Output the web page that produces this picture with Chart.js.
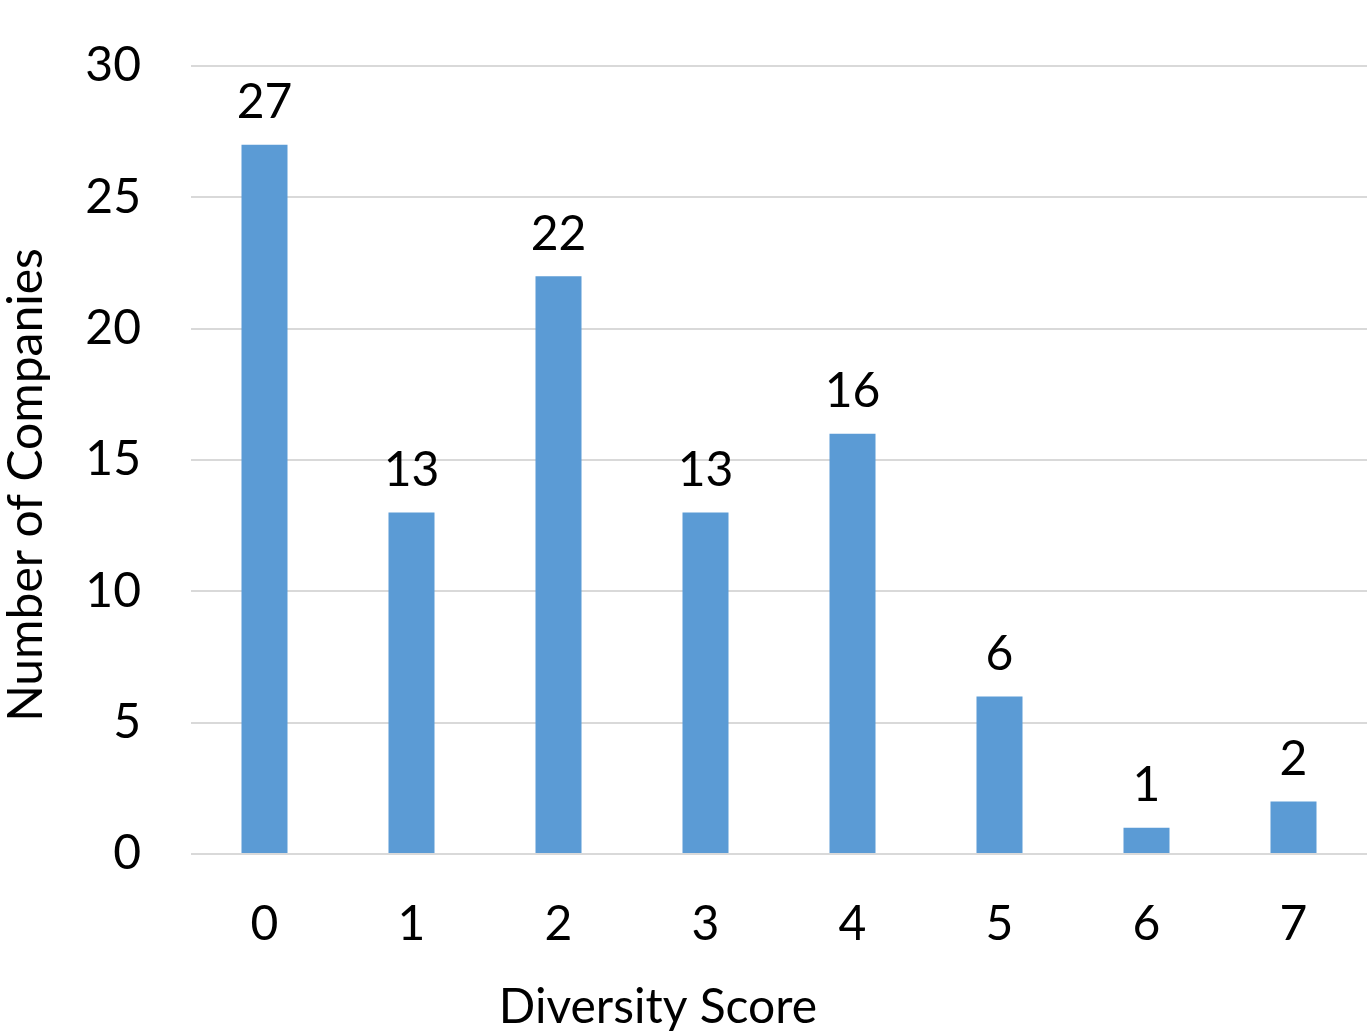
<!DOCTYPE html>
<html>
<head>
<meta charset="utf-8">
<script src="https://cdn.jsdelivr.net/npm/chart.js@4"></script>
<style>
  html, body { margin: 0; padding: 0; background: #fff; }
  #wrap { width: 1367px; height: 1032px; }
</style>
</head>
<body>
<div id="wrap"><canvas id="c" width="1367" height="1032"></canvas></div>
<script>
// Number of companies at each diversity score
const scores = ['0', '1', '2', '3', '4', '5', '6', '7'];
const companies = [27, 13, 22, 13, 16, 6, 1, 2];
const yTicks = [0, 5, 10, 15, 20, 25, 30];

const FONT = 'Lato, "Open Sans", sans-serif';
const FONT_SIZE = 48;

// Value labels above each bar
const valueLabels = {
  id: 'valueLabels',
  afterDatasetsDraw(chart) {
    const ctx = chart.ctx;
    const meta = chart.getDatasetMeta(0);
    ctx.save();
    ctx.font = FONT_SIZE + 'px ' + FONT;
    ctx.fillStyle = '#000';
    ctx.textAlign = 'center';
    ctx.textBaseline = 'bottom';
    meta.data.forEach((bar, i) => {
      ctx.fillText(String(companies[i]), bar.x, bar.y - 18);
    });
    ctx.restore();
  }
};

// Axis titles
const axisTitles = {
  id: 'axisTitles',
  afterDraw(chart) {
    const ctx = chart.ctx;
    ctx.save();
    ctx.font = FONT_SIZE + 'px ' + FONT;
    ctx.fillStyle = '#000';
    ctx.textAlign = 'center';
    ctx.textBaseline = 'middle';
    ctx.fillText('Diversity Score', 658, 1008);
    ctx.translate(27, 485);
    ctx.rotate(-Math.PI / 2);
    ctx.fillText('Number of Companies', 0, 0);
    ctx.restore();
  }
};

new Chart(document.getElementById('c'), {
  type: 'bar',
  data: {
    labels: scores,
    datasets: [{
      data: companies,
      backgroundColor: '#5B9BD5',
      borderWidth: 0,
      categoryPercentage: 1,
      barPercentage: 0.313
    }]
  },
  options: {
    responsive: false,
    animation: false,
    devicePixelRatio: 1,
    layout: { padding: { top: 66, right: 0, bottom: 0, left: 0 } },
    plugins: { legend: { display: false }, tooltip: { enabled: false } },
    scales: {
      x: {
        grid: { display: false, drawTicks: false },
        border: { display: false },
        ticks: { color: '#000', font: { family: FONT, size: FONT_SIZE }, padding: 42 },
        afterFit(scale) { scale.height = 178; }
      },
      y: {
        min: 0, max: 30,
        afterBuildTicks(scale) { scale.ticks = yTicks.map(v => ({ value: v })); },
        grid: { color: '#D9D9D9', lineWidth: 2, drawTicks: false },
        border: { display: false },
        ticks: { color: '#000', font: { family: FONT, size: FONT_SIZE }, padding: 50 },
        afterFit(scale) {
          scale.width = 191;
          scale.paddingTop = 0;
          scale.paddingBottom = 0;
        }
      }
    }
  },
  plugins: [valueLabels, axisTitles]
});
</script>
</body>
</html>
